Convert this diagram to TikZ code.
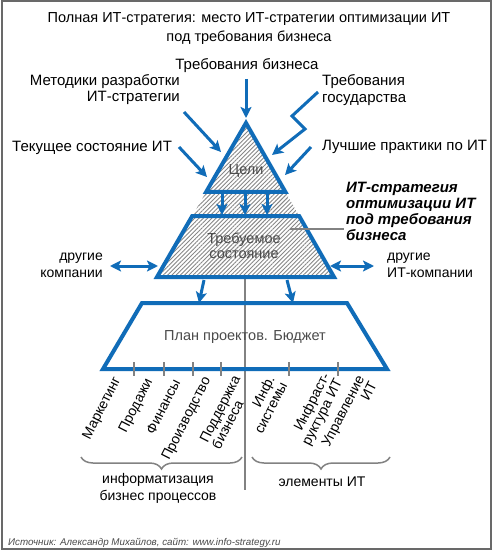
\documentclass[tikz,border=0pt]{standalone}
\usepackage{fontspec}
\setmainfont{Liberation Sans}
\usetikzlibrary{arrows.meta,patterns.meta,decorations.pathreplacing,calc}
\definecolor{pblue}{RGB}{16,108,184}
\definecolor{hatchcol}{RGB}{135,135,135}
\definecolor{framecol}{RGB}{105,105,105}
\definecolor{dtext}{RGB}{75,75,75}
\definecolor{glinecol}{RGB}{130,130,130}
\begin{document}
\begin{tikzpicture}[x=1pt,y=-1pt,
  txt/.style={font=\fontsize{14}{16.5}\selectfont, inner sep=0pt, text=black},
  toptxt/.style={font=\fontsize{15}{16.5}\selectfont, inner sep=0pt, text=black},
  intxt/.style={font=\fontsize{14.5}{15.5}\selectfont, inner sep=0pt, text=dtext, align=center},
  rlab/.style={font=\fontsize{14}{14}\selectfont, inner sep=0pt, rotate=63, anchor=north east},
  tipx/.style={-{Stealth[length=11pt,width=11pt,inset=2.5pt]}},
  arr/.style={pblue, line width=3pt, tipx},
  darr/.style={pblue, line width=3pt, {Stealth[length=11pt,width=11pt,inset=2.5pt]}-{Stealth[length=11pt,width=11pt,inset=2.5pt]}},
  outl/.style={pblue, line width=4pt, line join=miter},
  gline/.style={glinecol, line width=1.6pt},
  bracestyle/.style={glinecol, line width=1.5pt, decorate, decoration={brace, mirror, amplitude=12pt}},
]
\useasboundingbox (0,0) rectangle (493,553);
\fill[white] (0,0) rectangle (493,553);
\draw[framecol, line width=2pt] (1.5,1.5) rectangle (491,549);

% pyramid geometry
\coordinate (A) at (246,123);
\coordinate (BL) at (157,277);
\coordinate (BR) at (334,277);
\coordinate (P1) at ($(A)!0.448!(BL)$);
\coordinate (P2) at ($(A)!0.448!(BR)$);
\coordinate (Q1) at ($(A)!0.604!(BL)$);
\coordinate (Q2) at ($(A)!0.604!(BR)$);

% gray vertical divider
\coordinate (vtop) at (245,279);
\coordinate (vbot) at (245,490);
\draw[gline, line width=2pt] (vtop) -- (vbot);

% hatch
\fill[pattern={Lines[angle=45,distance=3pt,line width=0.9pt]}, pattern color=hatchcol] (A) -- (BL) -- (BR) -- cycle;
\draw[outl] (A) -- (P1) -- (P2) -- cycle;
\draw[outl] (Q1) -- (Q2) -- (BR) -- (BL) -- cycle;

% plan trapezoid
\coordinate (R1) at (142,303);
\coordinate (R2) at (347,303);
\coordinate (R3) at (387,369);
\coordinate (R4) at (103,369);
\draw[outl] (R1) -- (R2) -- (R3) -- (R4) -- cycle;
\foreach \x [count=\i] in {134,164,193,221,289,338}{
  \coordinate (t\i a) at (\x,362);
  \coordinate (t\i b) at (\x,376);
  \draw[gline, line width=1.4pt] (t\i a) -- (t\i b);
}

% texts
\node[txt, font=\fontsize{14.5}{19}\selectfont, align=center] (title) at (249,28.5) {Полная ИТ-стратегия: место ИТ-стратегии оптимизации ИТ\\под требования бизнеса};
\node[toptxt] (tbiz) at (247,66) {Требования бизнеса};
\node[toptxt, align=right, anchor=east] (metod) at (180,89.5) {Методики разработки\\ИТ-стратегии};
\node[toptxt, align=left, anchor=west] (tgos) at (322,90) {Требования\\государства};
\node[toptxt, anchor=west] (tek) at (12,148) {Текущее состояние ИТ};
\node[toptxt, anchor=west] (luch) at (322,147) {Лучшие практики по ИТ};
\node[txt, font=\fontsize{15}{16}\bfseries\itshape\selectfont, align=left, anchor=west] (strat) at (346,211) {ИТ-стратегия\\оптимизации ИТ\\под требования\\бизнеса};
\node[intxt] (celi) at (246,171) {Цели};
\node[intxt] (trebs) at (244,246) {Требуемое\\состояние};
\node[intxt] (plan) at (245,337) {План проектов. Бюджет};
\node[txt, align=right, anchor=east] (drug1) at (103,265.5) {другие\\компании};
\node[txt, align=left, anchor=west] (drug2) at (387,265.5) {другие\\ИТ-компании};
\node[txt, align=center] (infbp) at (158,488.5) {информатизация\\бизнес процессов};
\node[txt] (elit) at (322,482) {элементы ИТ};
\node[inner sep=0pt, anchor=west, font=\fontsize{9.8}{11}\itshape\selectfont, text=dtext] (src) at (8,542.5) {Источник: Александр Михайлов, сайт: www.info-strategy.ru};

% rotated labels
\node[rlab] (l1) at (112,375) {Маркетинг};
\node[rlab] (l2) at (144,377) {Продажи};
\node[rlab] (l3) at (172,378) {Финансы};
\node[rlab] (l4) at (202,375) {Производство};
\node[rlab, align=left] (l5) at (232,374) {Поддержка\\бизнеса};
\node[rlab, align=right] (l6) at (266,374) {Инф.\\системы};
\node[rlab, align=right] (l7) at (321,371) {Инфраст-\\руктура ИТ};
\node[rlab, align=right] (l8) at (356,374) {Управление\\ИТ};

% braces
\coordinate (b1a) at (81,457);
\coordinate (b1b) at (242,457);
\coordinate (b2a) at (252,457);
\coordinate (b2b) at (390,457);
\draw[bracestyle] (b1a) -- (b1b);
\draw[bracestyle] (b2a) -- (b2b);

% annotation line
\coordinate (ann1) at (290,229);
\coordinate (ann2) at (344,229);
\draw[gline, line width=1.5pt] (ann1) -- (ann2);

% input arrows
\coordinate (a1s) at (246,79);
\coordinate (a1e) at (246,118);
\draw[arr] (a1s) -- (a1e);
\coordinate (a2s) at (184,112);
\coordinate (a2e) at (221,152);
\draw[arr] (a2s) -- (a2e);
\coordinate (a3s) at (179,147);
\coordinate (a3e) at (207,177);
\draw[arr] (a3s) -- (a3e);
\coordinate (z1) at (318,92);
\coordinate (z2) at (292,116);
\coordinate (z3) at (305,129);
\coordinate (z4) at (272,155);
\draw[arr, line join=miter] (z1) -- (z2) -- (z3) -- (z4);
\coordinate (a5s) at (311,147);
\coordinate (a5e) at (285,175);
\draw[arr] (a5s) -- (a5e);

% arrows between levels
\foreach \x [count=\i] in {222,245,267}{
  \coordinate (m\i s) at (\x,194);
  \coordinate (m\i e) at (\x,215);
  \draw[arr] (m\i s) -- (m\i e);
}
\coordinate (d1s) at (110,266);
\coordinate (d1e) at (158,266);
\draw[darr] (d1s) -- (d1e);
\coordinate (d2s) at (330,266);
\coordinate (d2e) at (374,266);
\draw[darr] (d2s) -- (d2e);
\coordinate (o1s) at (204,280);
\coordinate (o1e) at (199,303);
\draw[arr] (o1s) -- (o1e);
\coordinate (o2s) at (287,280);
\coordinate (o2e) at (293,303);
\draw[arr] (o2s) -- (o2e);
\end{tikzpicture}
\end{document}
